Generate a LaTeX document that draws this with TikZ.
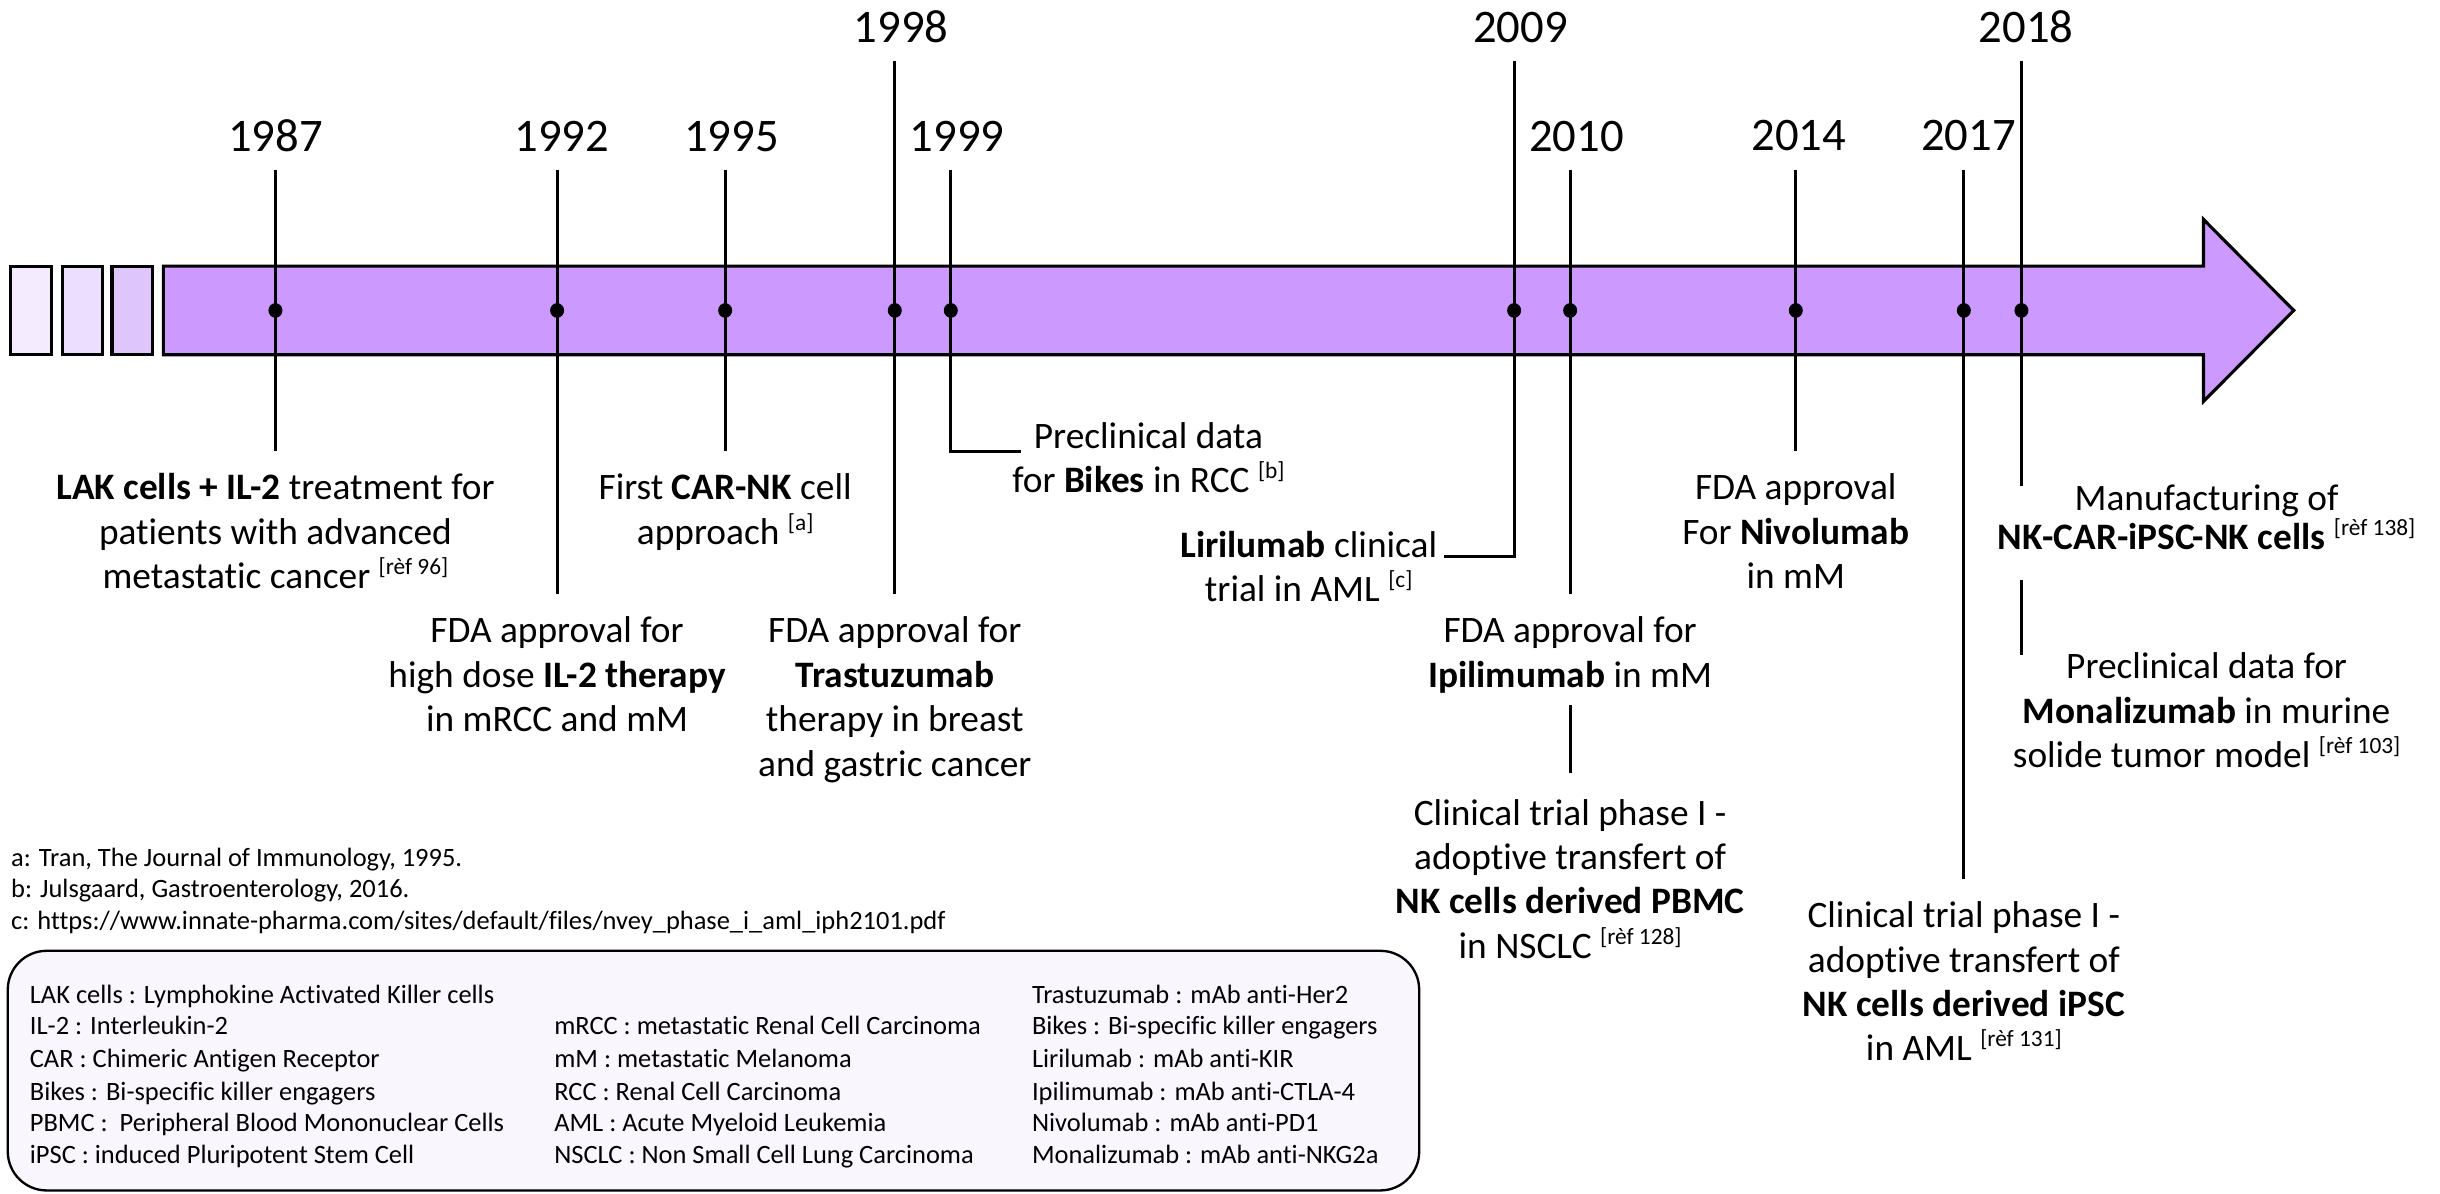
\documentclass[tikz,border=0pt]{standalone}
\usepackage{fontspec}
\setmainfont{Carlito}[Ligatures=NoCommon]
\definecolor{arrowfill}{RGB}{204,153,255}
\definecolor{rA}{RGB}{244,236,254}
\definecolor{rB}{RGB}{236,222,254}
\definecolor{rC}{RGB}{222,198,253}
\definecolor{legfill}{RGB}{249,246,254}
\newcommand\fl{\rule{0pt}{19pt}}
\newcommand\rf[1]{\raisebox{9pt}{\fontsize{15}{15}\selectfont[#1]}}
\begin{document}
\begin{tikzpicture}[x=1pt,y=-1pt,
  yr/.style={font=\fontsize{30}{36}\selectfont, anchor=base, inner sep=0pt},
  ev/.style={font=\fontsize{24}{28.5}\selectfont, align=center, anchor=north, inner sep=0pt},
  vline/.style={line width=1.8pt},
  lg/.style={font=\fontsize{17}{20}\selectfont, anchor=base west, inner sep=0pt},
  box/.style={line width=2pt, line join=miter}]

\useasboundingbox (0,0) rectangle (1568,767);
\fill[white] (0,0) rectangle (1568,767);

% legend box
\draw[line width=1.5pt, fill=legfill, rounded corners=25pt] (5,611) rectangle (912,765);

% timeline arrow
\draw[box, fill=rA] (7,171) rectangle (33,228);
\draw[box, fill=rB] (40,171) rectangle (66,228);
\draw[box, fill=rC] (72,171) rectangle (98,228);
\draw[box, fill=arrowfill] (105,171) -- (1416,171) -- (1416,141) -- (1474,199.5) -- (1416,258) -- (1416,228) -- (105,228) -- cycle;

% years
\node[yr] (y1987) at (177,97.5) {1987};
\node[yr] (y1992) at (361,97.5) {1992};
\node[yr] (y1995) at (470,97.5) {1995};
\node[yr] (y1998) at (579,27.5) {1998};
\node[yr] (y1999) at (615,97.5) {1999};
\node[yr] (y2009) at (977,27.5) {2009};
\node[yr] (y2010) at (1013,97.5) {2010};
\node[yr] (y2014) at (1156,96.5) {2014};
\node[yr] (y2017) at (1265,96.5) {2017};
\node[yr] (y2018) at (1302,27.5) {2018};

% line ends
\coordinate (a1987) at (177,109);  \coordinate (b1987) at (177,290);
\coordinate (a1992) at (358,109);  \coordinate (b1992) at (358,382);
\coordinate (a1995) at (466,109);  \coordinate (b1995) at (466,290);
\coordinate (a1998) at (575,39);   \coordinate (b1998) at (575,382);
\coordinate (a1999) at (611,109);  \coordinate (b1999) at (611,290); \coordinate (c1999) at (656,290);
\coordinate (a2009) at (973,39);   \coordinate (b2009) at (973,357.5); \coordinate (c2009) at (928,357.5);
\coordinate (a2010) at (1009,109); \coordinate (b2010) at (1009,382);
\coordinate (d2010) at (1009,453); \coordinate (e2010) at (1009,497);
\coordinate (a2014) at (1154,109); \coordinate (b2014) at (1154,290);
\coordinate (a2017) at (1262,109); \coordinate (b2017) at (1262,565);
\coordinate (a2018) at (1299,39);  \coordinate (b2018) at (1299,312);
\coordinate (d2018) at (1299,373); \coordinate (e2018) at (1299,421);

\draw[vline] (a1987) -- (b1987);
\draw[vline] (a1992) -- (b1992);
\draw[vline] (a1995) -- (b1995);
\draw[vline] (a1998) -- (b1998);
\draw[vline, line join=miter] (a1999) -- (b1999) -- (c1999);
\draw[vline, line join=miter] (a2009) -- (b2009) -- (c2009);
\draw[vline] (a2010) -- (b2010);
\draw[vline] (d2010) -- (e2010);
\draw[vline] (a2014) -- (b2014);
\draw[vline] (a2017) -- (b2017);
\draw[vline] (a2018) -- (b2018);
\draw[vline] (d2018) -- (e2018);

% dots
\foreach \x in {177,358,466,575,611,973,1009,1154,1262,1299}
  \fill (\x,199.5) ellipse (4.5 and 4.7);

% events
\node[ev] (e1987) at (177,302) {\fl\textbf{LAK cells + IL-2} treatment for\\patients with advanced\\metastatic cancer \rf{rèf 96}};
\node[ev] (e1992) at (358,394) {\fl FDA approval for\\high dose \textbf{IL-2 therapy}\\in mRCC and mM};
\node[ev] (e1995) at (466,302) {\fl First \textbf{CAR-NK} cell\\approach \rf{a}};
\node[ev] (e1998) at (575,394) {\fl FDA approval for\\\textbf{Trastuzumab}\\therapy in breast\\and gastric cancer};
\node[ev] (e1999) at (738,269) {\fl Preclinical data\\for \textbf{Bikes} in RCC \rf{b}};
\node[ev] (e2009) at (841,339) {\fl\textbf{Lirilumab} clinical\\trial in AML \rf{c}};
\node[ev] (e2010) at (1009,394) {\fl FDA approval for\\\textbf{Ipilimumab} in mM};
\node[ev] (f2010) at (1009,511) {\fl Clinical trial phase I -\\adoptive transfert of\\\textbf{NK cells derived PBMC}\\in NSCLC \rf{rèf 128}};
\node[ev] (e2014) at (1154,302) {\fl FDA approval\\For \textbf{Nivolumab}\\in mM};
\node[ev] (e2017) at (1262,577) {\fl Clinical trial phase I -\\adoptive transfert of\\\textbf{NK cells derived iPSC}\\in AML \rf{rèf 131}};
\node[ev, font=\fontsize{24}{25}\selectfont] (e2018) at (1418,309) {\fl Manufacturing of\\\textbf{NK-CAR-iPSC-NK cells} \rf{rèf 138}};
\node[ev] (f2018) at (1418,417) {\fl Preclinical data for\\\textbf{Monalizumab} in murine\\solide tumor model \rf{rèf 103}};

% footnotes
\node[lg] (fa) at (7,557) {a: Tran, The Journal of Immunology, 1995.};
\node[lg] (fb) at (7,577) {b: Julsgaard, Gastroenterology, 2016.};
\node[lg] (fc) at (7,597) {c: https://www.innate-pharma.com/sites/default/files/nvey\_phase\_i\_aml\_iph2101.pdf};

% legend
\node[lg] (l11) at (19,645) {LAK cells : Lymphokine Activated Killer cells};
\node[lg] (l12) at (19,665) {IL-2 : Interleukin-2};
\node[lg] (l13) at (19,686) {CAR : Chimeric Antigen Receptor};
\node[lg] (l14) at (19,707) {Bikes : Bi-specific killer engagers};
\node[lg] (l15) at (19,727) {PBMC :\ \ Peripheral Blood Mononuclear Cells};
\node[lg] (l16) at (19,748) {iPSC : induced Pluripotent Stem Cell};
\node[lg] (l22) at (356,665) {mRCC : metastatic Renal Cell Carcinoma};
\node[lg] (l23) at (356,686) {mM : metastatic Melanoma};
\node[lg] (l24) at (356,707) {RCC : Renal Cell Carcinoma};
\node[lg] (l25) at (356,727) {AML : Acute Myeloid Leukemia};
\node[lg] (l26) at (356,748) {NSCLC : Non Small Cell Lung Carcinoma};
\node[lg] (l31) at (663,645) {Trastuzumab : mAb anti-Her2};
\node[lg] (l32) at (663,665) {Bikes : Bi-specific killer engagers};
\node[lg] (l33) at (663,686) {Lirilumab : mAb anti-KIR};
\node[lg] (l34) at (663,707) {Ipilimumab : mAb anti-CTLA-4};
\node[lg] (l35) at (663,727) {Nivolumab : mAb anti-PD1};
\node[lg] (l36) at (663,748) {Monalizumab : mAb anti-NKG2a};
\end{tikzpicture}
\end{document}
